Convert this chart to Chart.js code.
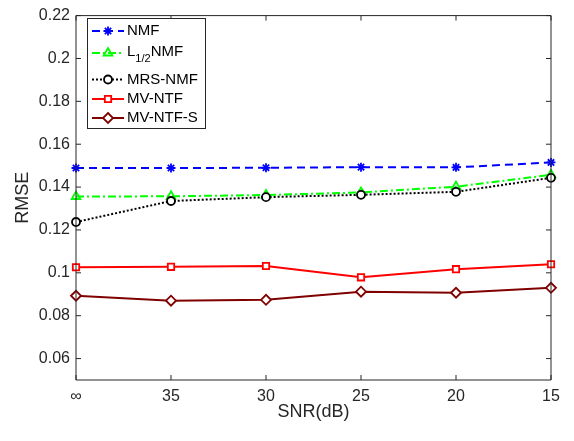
<!DOCTYPE html>
<html><head><meta charset="utf-8">
<script src="https://cdn.jsdelivr.net/npm/chart.js@4/dist/chart.umd.min.js"></script>
<style>html,body{margin:0;padding:0;background:#fff}#wrap{width:574px;height:441px}</style>
</head><body><div id="wrap"><canvas id="c" width="574" height="441"></canvas></div>
<script>
const snrLabels = ['∞', '35', '30', '25', '20', '15'];
const nmfValues = [0.1489, 0.1489, 0.1490, 0.1493, 0.1492, 0.1515];
const l12nmfValues = [0.1356, 0.1357, 0.1363, 0.1375, 0.1402, 0.1457];
const mrsNmfValues = [0.1237, 0.1335, 0.1353, 0.1364, 0.1378, 0.1443];
const mvNtfValues = [0.1026, 0.1028, 0.1032, 0.0979, 0.1017, 0.1040];
const mvNtfSValues = [0.0893, 0.0870, 0.0874, 0.0912, 0.0907, 0.0930];
const yTickValues = [0.06, 0.08, 0.10, 0.12, 0.14, 0.16, 0.18, 0.20, 0.22];

const FONT = 'Liberation Sans, Arial, Helvetica, sans-serif';
const AX = '#262626';

function drawMarker(ctx, style, x, y, r, stroke, fill, lw) {
  ctx.save();
  ctx.strokeStyle = stroke; ctx.fillStyle = fill; ctx.lineWidth = lw; ctx.setLineDash([]);
  ctx.beginPath();
  if (style === 'circle') { ctx.arc(x, y, r, 0, Math.PI * 2); ctx.fill(); ctx.stroke(); }
  else if (style === 'rect') { const s = r * Math.SQRT1_2; ctx.rect(x - s, y - s, 2 * s, 2 * s); ctx.fill(); ctx.stroke(); }
  else if (style === 'rectRot') { ctx.moveTo(x, y - r); ctx.lineTo(x + r, y); ctx.lineTo(x, y + r); ctx.lineTo(x - r, y); ctx.closePath(); ctx.fill(); ctx.stroke(); }
  else if (style === 'triangle') {
    const a = r * 1.0;
    ctx.moveTo(x, y - a); ctx.lineTo(x + a * 0.866 * 1.0, y + a * 0.5); ctx.lineTo(x - a * 0.866, y + a * 0.5); ctx.closePath(); ctx.fill(); ctx.stroke();
  } else if (style === 'star') {
    for (let k = 0; k < 4; k++) { const ang = k * Math.PI / 4; ctx.moveTo(x - r * Math.cos(ang), y - r * Math.sin(ang)); ctx.lineTo(x + r * Math.cos(ang), y + r * Math.sin(ang)); }
    ctx.stroke();
  }
  ctx.restore();
}

const boxTicksPlugin = {
  id: 'boxTicks',
  afterDatasetsDraw(chart) {
    const { ctx, chartArea: a, scales } = chart;
    ctx.save();
    ctx.strokeStyle = AX; ctx.lineWidth = 1; ctx.setLineDash([]);
    ctx.beginPath();
    ctx.rect(a.left, a.top, a.right - a.left, a.bottom - a.top);
    const tl = 5;
    scales.x.ticks.forEach((t, i) => {
      const px = scales.x.getPixelForTick(i);
      ctx.moveTo(px, a.bottom); ctx.lineTo(px, a.bottom - tl);
      ctx.moveTo(px, a.top); ctx.lineTo(px, a.top + tl);
    });
    scales.y.ticks.forEach(t => {
      const py = scales.y.getPixelForValue(t.value);
      ctx.moveTo(a.left, py); ctx.lineTo(a.left + tl, py);
      ctx.moveTo(a.right, py); ctx.lineTo(a.right - tl, py);
    });
    ctx.stroke();
    ctx.restore();
  }
};

const legendPlugin = {
  id: 'boxLegend',
  afterDraw(chart) {
    const { ctx } = chart;
    const bx = 87, by = 18, bw = 118, bh = 110;
    ctx.save();
    ctx.fillStyle = '#fff'; ctx.fillRect(bx, by, bw, bh);
    ctx.strokeStyle = AX; ctx.lineWidth = 1; ctx.strokeRect(bx + 0.5, by + 0.5, bw, bh);
    const rows = [31, 53, 79.5, 99, 118];
    chart.data.datasets.forEach((ds, i) => {
      const y = rows[i];
      ctx.save();
      ctx.strokeStyle = ds.borderColor; ctx.lineWidth = ds.borderWidth;
      ctx.setLineDash(ds.borderDash || []);
      ctx.beginPath(); ctx.moveTo(92, y); ctx.lineTo(124, y); ctx.stroke();
      ctx.restore();
      drawMarker(ctx, ds.pointStyle, 108, y, ds.pointRadius, ds.borderColor, ds.pointBackgroundColor, ds.pointBorderWidth);
      ctx.fillStyle = '#000';
      ctx.textBaseline = 'middle'; ctx.textAlign = 'left';
      ctx.font = '15px ' + FONT;
      if (ds.label === 'L1/2NMF') {
        const ty = y - 1.5;
        ctx.fillText('L', 127, ty);
        let w = ctx.measureText('L').width;
        ctx.font = '11px ' + FONT;
        ctx.fillText('1/2', 127 + w, ty + 7);
        const w2 = ctx.measureText('1/2').width;
        ctx.font = '15px ' + FONT;
        ctx.fillText('NMF', 127 + w + w2, ty);
      } else {
        ctx.fillText(ds.label, 127, y);
      }
    });
    ctx.restore();
  }
};

function mk(label, data, color, dash, style, r, bg, order) {
  return {
    label, data, borderColor: color, backgroundColor: color, borderWidth: 2, borderDash: dash,
    pointStyle: style, pointRadius: r, pointHoverRadius: r, pointBorderWidth: 1.8,
    pointBorderColor: color, pointBackgroundColor: bg, fill: false, tension: 0, clip: false, order
  };
}

new Chart(document.getElementById('c'), {
  type: 'line',
  data: {
    labels: snrLabels,
    datasets: [
      mk('NMF', nmfValues, '#0000FF', [8, 5], 'star', 4.5, '#0000FF', 5),
      mk('L1/2NMF', l12nmfValues, '#00FF00', [8, 3, 2, 3], 'triangle', 5, 'rgba(255,255,255,0)', 4),
      mk('MRS-NMF', mrsNmfValues, '#000000', [2, 2], 'circle', 4, '#ffffff', 3),
      mk('MV-NTF', mvNtfValues, '#FF0000', [], 'rect', 4.5, '#ffffff', 2),
      mk('MV-NTF-S', mvNtfSValues, '#800000', [], 'rectRot', 5, '#ffffff', 1)
    ]
  },
  options: {
    responsive: false, animation: false, devicePixelRatio: 1,
    layout: { padding: { left: 0, top: 10, right: 23, bottom: 0 } },
    plugins: { legend: { display: false }, tooltip: { enabled: false } },
    scales: {
      x: {
        type: 'category', offset: false,
        grid: { display: false, drawTicks: false }, border: { display: false },
        ticks: { color: AX, font: { family: FONT, size: 16 }, padding: 7, maxRotation: 0, autoSkip: false },
        title: { display: true, text: 'SNR(dB)', color: AX, font: { family: FONT, size: 18 }, padding: { top: 0, bottom: 18 } },
        afterFit(s) { s.height = 61; }
      },
      y: {
        min: 0.05, max: 0.22,
        grid: { display: false, drawTicks: false }, border: { display: false },
        afterBuildTicks(s) { s.ticks = yTickValues.map(v => ({ value: v })); },
        ticks: { color: AX, font: { family: FONT, size: 16 }, padding: 6, callback: v => String(+v.toFixed(2)) },
        title: { display: true, text: 'RMSE', color: AX, font: { family: FONT, size: 18 }, padding: { top: 12, bottom: 0 } },
        afterFit(s) { s.width = 76; }
      }
    }
  },
  plugins: [boxTicksPlugin, legendPlugin]
});
</script>
</body></html>
